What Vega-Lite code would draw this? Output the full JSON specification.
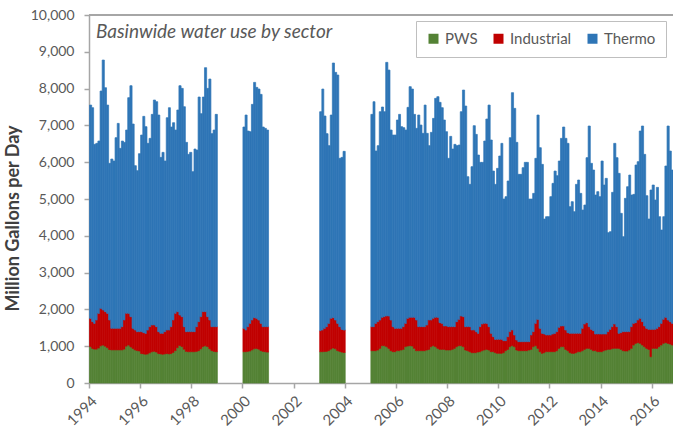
{
  "$schema": "https://vega.github.io/schema/vega-lite/v6.json",
  "width": 584,
  "height": 368,
  "autosize": {"type": "none"},
  "padding": {"left": 89, "top": 15, "right": 0, "bottom": 46},
  "background": "white",
  "config": {
    "view": {"stroke": null},
    "font": "Lato",
    "axis": {"grid": false, "domainColor": "#a6a6a6", "tickColor": "#a6a6a6", "domainWidth": 1.5, "tickWidth": 1.5, "labelColor": "#595959", "labelFont": "Lato", "labelFontSize": 14, "tickSize": 5},
    "axisY": {"labelOverlap": false, "labelPadding": 10, "format": ",.0f", "values": [0,1000,2000,3000,4000,5000,6000,7000,8000,9000,10000], "titleFontSize": 18, "titleFontWeight": "bold", "titleColor": "#404040", "titleFont": "Lato", "titlePadding": 8, "titleY": 203}
  },
  "title": {"text": "Basinwide water use by sector", "anchor": "start", "frame": "group", "dx": 7, "dy": 38, "fontStyle": "italic", "fontWeight": "normal", "fontSize": 19, "font": "Lato", "color": "#595959"},
  "data": {"values": [
    {"d":"1994-01-01","PWS":990,"Industrial":767,"Thermo":5796},{"d":"1994-02-01","PWS":940,"Industrial":727,"Thermo":5814},{"d":"1994-03-01","PWS":920,"Industrial":701,"Thermo":4864},{"d":"1994-04-01","PWS":920,"Industrial":792,"Thermo":4800},{"d":"1994-05-01","PWS":950,"Industrial":943,"Thermo":4682},{"d":"1994-06-01","PWS":1010,"Industrial":1019,"Thermo":5905},{"d":"1994-07-01","PWS":1030,"Industrial":954,"Thermo":6792},{"d":"1994-08-01","PWS":1000,"Industrial":939,"Thermo":6085},{"d":"1994-09-01","PWS":960,"Industrial":933,"Thermo":5660},{"d":"1994-10-01","PWS":910,"Industrial":802,"Thermo":4257},{"d":"1994-11-01","PWS":900,"Industrial":586,"Thermo":4600},{"d":"1994-12-01","PWS":900,"Industrial":586,"Thermo":4546},
    {"d":"1995-01-01","PWS":900,"Industrial":586,"Thermo":5180},{"d":"1995-02-01","PWS":900,"Industrial":586,"Thermo":5569},{"d":"1995-03-01","PWS":900,"Industrial":586,"Thermo":4890},{"d":"1995-04-01","PWS":900,"Industrial":631,"Thermo":5044},{"d":"1995-05-01","PWS":920,"Industrial":792,"Thermo":4827},{"d":"1995-06-01","PWS":1000,"Industrial":893,"Thermo":4981},{"d":"1995-07-01","PWS":1030,"Industrial":863,"Thermo":5860},{"d":"1995-08-01","PWS":980,"Industrial":823,"Thermo":6276},{"d":"1995-09-01","PWS":940,"Industrial":546,"Thermo":5551},{"d":"1995-10-01","PWS":900,"Industrial":540,"Thermo":4465},{"d":"1995-11-01","PWS":880,"Industrial":515,"Thermo":4374},{"d":"1995-12-01","PWS":870,"Industrial":525,"Thermo":4836},
    {"d":"1996-01-01","PWS":800,"Industrial":595,"Thermo":5343},{"d":"1996-02-01","PWS":790,"Industrial":578,"Thermo":5878},{"d":"1996-03-01","PWS":780,"Industrial":570,"Thermo":5615},{"d":"1996-04-01","PWS":790,"Industrial":650,"Thermo":5072},{"d":"1996-05-01","PWS":820,"Industrial":711,"Thermo":5117},{"d":"1996-06-01","PWS":850,"Industrial":726,"Thermo":5724},{"d":"1996-07-01","PWS":860,"Industrial":716,"Thermo":6113},{"d":"1996-08-01","PWS":840,"Industrial":691,"Thermo":6113},{"d":"1996-09-01","PWS":800,"Industrial":595,"Thermo":5887},{"d":"1996-10-01","PWS":790,"Industrial":560,"Thermo":4781},{"d":"1996-11-01","PWS":780,"Industrial":570,"Thermo":4917},{"d":"1996-12-01","PWS":790,"Industrial":605,"Thermo":4637},
    {"d":"1997-01-01","PWS":800,"Industrial":640,"Thermo":5769},{"d":"1997-02-01","PWS":790,"Industrial":650,"Thermo":6041},{"d":"1997-03-01","PWS":800,"Industrial":731,"Thermo":5425},{"d":"1997-04-01","PWS":830,"Industrial":882,"Thermo":5361},{"d":"1997-05-01","PWS":880,"Industrial":1013,"Thermo":4981},{"d":"1997-06-01","PWS":960,"Industrial":979,"Thermo":5479},{"d":"1997-07-01","PWS":1020,"Industrial":828,"Thermo":6231},{"d":"1997-08-01","PWS":990,"Industrial":813,"Thermo":6203},{"d":"1997-09-01","PWS":920,"Industrial":611,"Thermo":5977},{"d":"1997-10-01","PWS":860,"Industrial":535,"Thermo":5144},{"d":"1997-11-01","PWS":850,"Industrial":545,"Thermo":4818},{"d":"1997-12-01","PWS":850,"Industrial":545,"Thermo":4872},
    {"d":"1998-01-01","PWS":850,"Industrial":545,"Thermo":4347},{"d":"1998-02-01","PWS":850,"Industrial":545,"Thermo":4963},{"d":"1998-03-01","PWS":860,"Industrial":671,"Thermo":4799},{"d":"1998-04-01","PWS":880,"Industrial":787,"Thermo":6104},{"d":"1998-05-01","PWS":930,"Industrial":873,"Thermo":5515},{"d":"1998-06-01","PWS":990,"Industrial":949,"Thermo":5832},{"d":"1998-07-01","PWS":1010,"Industrial":929,"Thermo":6629},{"d":"1998-08-01","PWS":990,"Industrial":813,"Thermo":6203},{"d":"1998-09-01","PWS":930,"Industrial":782,"Thermo":6548},{"d":"1998-10-01","PWS":880,"Industrial":651,"Thermo":5244},{"d":"1998-11-01","PWS":860,"Industrial":671,"Thermo":5343},{"d":"1998-12-01","PWS":850,"Industrial":681,"Thermo":5769},
    {"d":"2000-01-01","PWS":850,"Industrial":636,"Thermo":5470},{"d":"2000-02-01","PWS":850,"Industrial":590,"Thermo":5842},{"d":"2000-03-01","PWS":860,"Industrial":671,"Thermo":5316},{"d":"2000-04-01","PWS":870,"Industrial":751,"Thermo":5208},{"d":"2000-05-01","PWS":900,"Industrial":812,"Thermo":5860},{"d":"2000-06-01","PWS":930,"Industrial":845,"Thermo":6394},{"d":"2000-07-01","PWS":940,"Industrial":817,"Thermo":6276},{"d":"2000-08-01","PWS":920,"Industrial":792,"Thermo":6276},{"d":"2000-09-01","PWS":880,"Industrial":741,"Thermo":6222},{"d":"2000-10-01","PWS":860,"Industrial":671,"Thermo":5425},{"d":"2000-11-01","PWS":850,"Industrial":681,"Thermo":5389},{"d":"2000-12-01","PWS":840,"Industrial":691,"Thermo":5343},
    {"d":"2003-01-01","PWS":850,"Industrial":572,"Thermo":5950},{"d":"2003-02-01","PWS":850,"Industrial":590,"Thermo":6548},{"d":"2003-03-01","PWS":855,"Industrial":631,"Thermo":5769},{"d":"2003-04-01","PWS":860,"Industrial":671,"Thermo":5244},{"d":"2003-05-01","PWS":880,"Industrial":741,"Thermo":4828},{"d":"2003-06-01","PWS":920,"Industrial":837,"Thermo":5525},{"d":"2003-07-01","PWS":950,"Industrial":825,"Thermo":6920},{"d":"2003-08-01","PWS":930,"Industrial":782,"Thermo":6729},{"d":"2003-09-01","PWS":880,"Industrial":741,"Thermo":6748},{"d":"2003-10-01","PWS":860,"Industrial":671,"Thermo":4574},{"d":"2003-11-01","PWS":840,"Industrial":618,"Thermo":4673},{"d":"2003-12-01","PWS":830,"Industrial":610,"Thermo":4855},
    {"d":"2005-01-01","PWS":878,"Industrial":653,"Thermo":5769},{"d":"2005-02-01","PWS":878,"Industrial":653,"Thermo":6113},{"d":"2005-03-01","PWS":878,"Industrial":743,"Thermo":4683},{"d":"2005-04-01","PWS":897,"Industrial":770,"Thermo":4782},{"d":"2005-05-01","PWS":942,"Industrial":770,"Thermo":5660},{"d":"2005-06-01","PWS":1014,"Industrial":771,"Thermo":5715},{"d":"2005-07-01","PWS":1014,"Industrial":789,"Thermo":5569},{"d":"2005-08-01","PWS":987,"Industrial":833,"Thermo":6893},{"d":"2005-09-01","PWS":942,"Industrial":878,"Thermo":6684},{"d":"2005-10-01","PWS":878,"Industrial":834,"Thermo":5162},{"d":"2005-11-01","PWS":851,"Industrial":680,"Thermo":5207},{"d":"2005-12-01","PWS":851,"Industrial":635,"Thermo":5252},
    {"d":"2006-01-01","PWS":878,"Industrial":608,"Thermo":5660},{"d":"2006-02-01","PWS":878,"Industrial":608,"Thermo":5814},{"d":"2006-03-01","PWS":897,"Industrial":589,"Thermo":5479},{"d":"2006-04-01","PWS":914,"Industrial":617,"Thermo":5407},{"d":"2006-05-01","PWS":987,"Industrial":634,"Thermo":5253},{"d":"2006-06-01","PWS":1005,"Industrial":753,"Thermo":5732},{"d":"2006-07-01","PWS":1014,"Industrial":771,"Thermo":6267},{"d":"2006-08-01","PWS":1005,"Industrial":780,"Thermo":6203},{"d":"2006-09-01","PWS":942,"Industrial":843,"Thermo":5515},{"d":"2006-10-01","PWS":878,"Industrial":834,"Thermo":5208},{"d":"2006-11-01","PWS":878,"Industrial":653,"Thermo":5751},{"d":"2006-12-01","PWS":878,"Industrial":653,"Thermo":5479},
    {"d":"2007-01-01","PWS":878,"Industrial":653,"Thermo":5253},{"d":"2007-02-01","PWS":878,"Industrial":653,"Thermo":6022},{"d":"2007-03-01","PWS":897,"Industrial":679,"Thermo":5208},{"d":"2007-04-01","PWS":914,"Industrial":798,"Thermo":4737},{"d":"2007-05-01","PWS":987,"Industrial":725,"Thermo":5099},{"d":"2007-06-01","PWS":1014,"Industrial":744,"Thermo":5433},{"d":"2007-07-01","PWS":987,"Industrial":798,"Thermo":5950},{"d":"2007-08-01","PWS":942,"Industrial":843,"Thermo":5995},{"d":"2007-09-01","PWS":914,"Industrial":726,"Thermo":5986},{"d":"2007-10-01","PWS":914,"Industrial":707,"Thermo":5860},{"d":"2007-11-01","PWS":914,"Industrial":635,"Thermo":5597},{"d":"2007-12-01","PWS":897,"Industrial":652,"Thermo":5280},
    {"d":"2008-01-01","PWS":897,"Industrial":634,"Thermo":4574},{"d":"2008-02-01","PWS":897,"Industrial":634,"Thermo":5171},{"d":"2008-03-01","PWS":914,"Industrial":617,"Thermo":4827},{"d":"2008-04-01","PWS":942,"Industrial":589,"Thermo":4954},{"d":"2008-05-01","PWS":987,"Industrial":680,"Thermo":4782},{"d":"2008-06-01","PWS":1014,"Industrial":716,"Thermo":4737},{"d":"2008-07-01","PWS":1014,"Industrial":806,"Thermo":5552},{"d":"2008-08-01","PWS":987,"Industrial":816,"Thermo":6158},{"d":"2008-09-01","PWS":897,"Industrial":634,"Thermo":5995},{"d":"2008-10-01","PWS":878,"Industrial":653,"Thermo":4075},{"d":"2008-11-01","PWS":851,"Industrial":680,"Thermo":3867},{"d":"2008-12-01","PWS":824,"Industrial":616,"Thermo":4438},
    {"d":"2009-01-01","PWS":824,"Industrial":616,"Thermo":5552},{"d":"2009-02-01","PWS":824,"Industrial":571,"Thermo":5361},{"d":"2009-03-01","PWS":842,"Industrial":508,"Thermo":4845},{"d":"2009-04-01","PWS":851,"Industrial":680,"Thermo":4465},{"d":"2009-05-01","PWS":878,"Industrial":725,"Thermo":4393},{"d":"2009-06-01","PWS":897,"Industrial":724,"Thermo":4954},{"d":"2009-07-01","PWS":914,"Industrial":707,"Thermo":5552},{"d":"2009-08-01","PWS":897,"Industrial":634,"Thermo":6022},{"d":"2009-09-01","PWS":851,"Industrial":499,"Thermo":5253},{"d":"2009-10-01","PWS":851,"Industrial":408,"Thermo":4501},{"d":"2009-11-01","PWS":824,"Industrial":362,"Thermo":4212},{"d":"2009-12-01","PWS":806,"Industrial":380,"Thermo":4647},
    {"d":"2010-01-01","PWS":806,"Industrial":380,"Thermo":4982},{"d":"2010-02-01","PWS":806,"Industrial":380,"Thermo":5326},{"d":"2010-03-01","PWS":824,"Industrial":326,"Thermo":3849},{"d":"2010-04-01","PWS":878,"Industrial":272,"Thermo":3913},{"d":"2010-05-01","PWS":914,"Industrial":345,"Thermo":4230},{"d":"2010-06-01","PWS":987,"Industrial":408,"Thermo":5271},{"d":"2010-07-01","PWS":1014,"Industrial":426,"Thermo":6449},{"d":"2010-08-01","PWS":987,"Industrial":317,"Thermo":6159},{"d":"2010-09-01","PWS":897,"Industrial":271,"Thermo":5371},{"d":"2010-10-01","PWS":878,"Industrial":245,"Thermo":4547},{"d":"2010-11-01","PWS":878,"Industrial":245,"Thermo":4547},{"d":"2010-12-01","PWS":878,"Industrial":245,"Thermo":4728},
    {"d":"2011-01-01","PWS":878,"Industrial":245,"Thermo":4873},{"d":"2011-02-01","PWS":878,"Industrial":245,"Thermo":4873},{"d":"2011-03-01","PWS":897,"Industrial":226,"Thermo":3876},{"d":"2011-04-01","PWS":914,"Industrial":390,"Thermo":3695},{"d":"2011-05-01","PWS":987,"Industrial":408,"Thermo":3758},{"d":"2011-06-01","PWS":1014,"Industrial":607,"Thermo":4484},{"d":"2011-07-01","PWS":942,"Industrial":788,"Thermo":5552},{"d":"2011-08-01","PWS":851,"Industrial":635,"Thermo":4908},{"d":"2011-09-01","PWS":806,"Industrial":544,"Thermo":4591},{"d":"2011-10-01","PWS":824,"Industrial":507,"Thermo":3125},{"d":"2011-11-01","PWS":851,"Industrial":453,"Thermo":3215},{"d":"2011-12-01","PWS":851,"Industrial":453,"Thermo":3215},
    {"d":"2012-01-01","PWS":851,"Industrial":453,"Thermo":3759},{"d":"2012-02-01","PWS":851,"Industrial":480,"Thermo":4094},{"d":"2012-03-01","PWS":851,"Industrial":499,"Thermo":4410},{"d":"2012-04-01","PWS":878,"Industrial":517,"Thermo":4238},{"d":"2012-05-01","PWS":942,"Industrial":571,"Thermo":4519},{"d":"2012-06-01","PWS":987,"Industrial":562,"Thermo":5099},{"d":"2012-07-01","PWS":987,"Industrial":562,"Thermo":5407},{"d":"2012-08-01","PWS":914,"Industrial":526,"Thermo":5208},{"d":"2012-09-01","PWS":878,"Industrial":490,"Thermo":5144},{"d":"2012-10-01","PWS":824,"Industrial":526,"Thermo":3441},{"d":"2012-11-01","PWS":806,"Industrial":544,"Thermo":3577},{"d":"2012-12-01","PWS":806,"Industrial":544,"Thermo":3305},
    {"d":"2013-01-01","PWS":824,"Industrial":526,"Thermo":4048},{"d":"2013-02-01","PWS":851,"Industrial":499,"Thermo":4166},{"d":"2013-03-01","PWS":851,"Industrial":499,"Thermo":3803},{"d":"2013-04-01","PWS":878,"Industrial":608,"Thermo":3214},{"d":"2013-05-01","PWS":914,"Industrial":689,"Thermo":3233},{"d":"2013-06-01","PWS":942,"Industrial":698,"Thermo":4483},{"d":"2013-07-01","PWS":942,"Industrial":589,"Thermo":5452},{"d":"2013-08-01","PWS":914,"Industrial":544,"Thermo":4511},{"d":"2013-09-01","PWS":878,"Industrial":544,"Thermo":4366},{"d":"2013-10-01","PWS":878,"Industrial":453,"Thermo":3777},{"d":"2013-11-01","PWS":851,"Industrial":480,"Thermo":3868},{"d":"2013-12-01","PWS":851,"Industrial":480,"Thermo":3732},
    {"d":"2014-01-01","PWS":851,"Industrial":480,"Thermo":4701},{"d":"2014-02-01","PWS":878,"Industrial":453,"Thermo":4049},{"d":"2014-03-01","PWS":897,"Industrial":434,"Thermo":4230},{"d":"2014-04-01","PWS":914,"Industrial":481,"Thermo":2690},{"d":"2014-05-01","PWS":914,"Industrial":544,"Thermo":2654},{"d":"2014-06-01","PWS":933,"Industrial":598,"Thermo":3650},{"d":"2014-07-01","PWS":942,"Industrial":661,"Thermo":4909},{"d":"2014-08-01","PWS":942,"Industrial":589,"Thermo":4592},{"d":"2014-09-01","PWS":942,"Industrial":408,"Thermo":4347},{"d":"2014-10-01","PWS":914,"Industrial":454,"Thermo":3242},{"d":"2014-11-01","PWS":878,"Industrial":517,"Thermo":2581},{"d":"2014-12-01","PWS":869,"Industrial":526,"Thermo":3623},
    {"d":"2015-01-01","PWS":869,"Industrial":526,"Thermo":3939},{"d":"2015-02-01","PWS":897,"Industrial":498,"Thermo":4256},{"d":"2015-03-01","PWS":942,"Industrial":589,"Thermo":3577},{"d":"2015-04-01","PWS":1032,"Industrial":589,"Thermo":3505},{"d":"2015-05-01","PWS":1077,"Industrial":563,"Thermo":4283},{"d":"2015-06-01","PWS":1096,"Industrial":616,"Thermo":4302},{"d":"2015-07-01","PWS":1077,"Industrial":681,"Thermo":5089},{"d":"2015-08-01","PWS":1032,"Industrial":635,"Thermo":5316},{"d":"2015-09-01","PWS":987,"Industrial":562,"Thermo":4664},{"d":"2015-10-01","PWS":942,"Industrial":544,"Thermo":3604},{"d":"2015-11-01","PWS":914,"Industrial":544,"Thermo":2998},{"d":"2015-12-01","PWS":715,"Industrial":743,"Thermo":3786},
    {"d":"2016-01-01","PWS":942,"Industrial":516,"Thermo":3922},{"d":"2016-02-01","PWS":942,"Industrial":516,"Thermo":3514},{"d":"2016-03-01","PWS":942,"Industrial":544,"Thermo":3830},{"d":"2016-04-01","PWS":987,"Industrial":544,"Thermo":2988},{"d":"2016-05-01","PWS":1032,"Industrial":589,"Thermo":2536},{"d":"2016-06-01","PWS":1077,"Industrial":653,"Thermo":2789},{"d":"2016-07-01","PWS":1096,"Industrial":689,"Thermo":4111},{"d":"2016-08-01","PWS":1077,"Industrial":635,"Thermo":5271},{"d":"2016-09-01","PWS":1059,"Industrial":608,"Thermo":4636},{"d":"2016-10-01","PWS":1032,"Industrial":589,"Thermo":4166}
  ]},
  "transform": [
    {"fold": ["PWS", "Industrial", "Thermo"], "as": ["sector", "mgd"]},
    {"window": [{"op": "row_number", "as": "k"}], "groupby": ["d"]}
  ],
  "layer": [
    {
      "mark": {"type": "bar", "binSpacing": 0, "strokeWidth": 0.7},
      "encoding": {
        "x": {
          "field": "d", "timeUnit": "utcyearmonth", "type": "temporal",
          "scale": {"domain": [{"year": 1994, "month": 1, "date": 1, "utc": true}, {"year": 2016, "month": 11, "date": 1, "utc": true}]},
          "axis": {
            "title": null, "format": "%Y", "labelAngle": -45, "labelPadding": 5, "labelFontSize": 15,
            "values": [
              {"year": 1994, "month": 1, "date": 1, "utc": true}, {"year": 1996, "month": 1, "date": 1, "utc": true},
              {"year": 1998, "month": 1, "date": 1, "utc": true}, {"year": 2000, "month": 1, "date": 1, "utc": true},
              {"year": 2002, "month": 1, "date": 1, "utc": true}, {"year": 2004, "month": 1, "date": 1, "utc": true},
              {"year": 2006, "month": 1, "date": 1, "utc": true}, {"year": 2008, "month": 1, "date": 1, "utc": true},
              {"year": 2010, "month": 1, "date": 1, "utc": true}, {"year": 2012, "month": 1, "date": 1, "utc": true},
              {"year": 2014, "month": 1, "date": 1, "utc": true}, {"year": 2016, "month": 1, "date": 1, "utc": true}
            ]
          }
        },
        "y": {
          "field": "mgd", "type": "quantitative", "stack": "zero",
          "scale": {"domain": [0, 10000], "nice": false},
          "axis": {"title": "Million Gallons per Day"}
        },
        "order": {"field": "k", "type": "quantitative", "sort": "ascending"},
        "color": {
          "field": "sector", "type": "nominal", "sort": ["PWS", "Industrial", "Thermo"],
          "scale": {"domain": ["PWS", "Industrial", "Thermo"], "range": ["#548235", "#C00000", "#2E75B6"]},
          "legend": {"title": null, "orient": "none", "legendX": 327, "legendY": 6, "direction": "horizontal", "strokeColor": "#bfbfbf", "fillColor": "white", "padding": 10, "symbolType": "square", "symbolSize": 100, "symbolStrokeWidth": 0, "labelFontSize": 15, "labelColor": "#595959", "labelFont": "Lato", "columnPadding": 13, "labelOffset": 4}
        },
        "stroke": {
          "field": "sector", "type": "nominal",
          "scale": {"domain": ["PWS", "Industrial", "Thermo"], "range": ["#548235", "#C00000", "#2E75B6"]},
          "legend": null
        }
      }
    },
    {
      "mark": {"type": "rule", "color": "#a6a6a6", "strokeWidth": 1.5},
      "encoding": {"y": {"datum": 10000, "axis": {"title": "Million Gallons per Day"}}}
    }
  ]
}
